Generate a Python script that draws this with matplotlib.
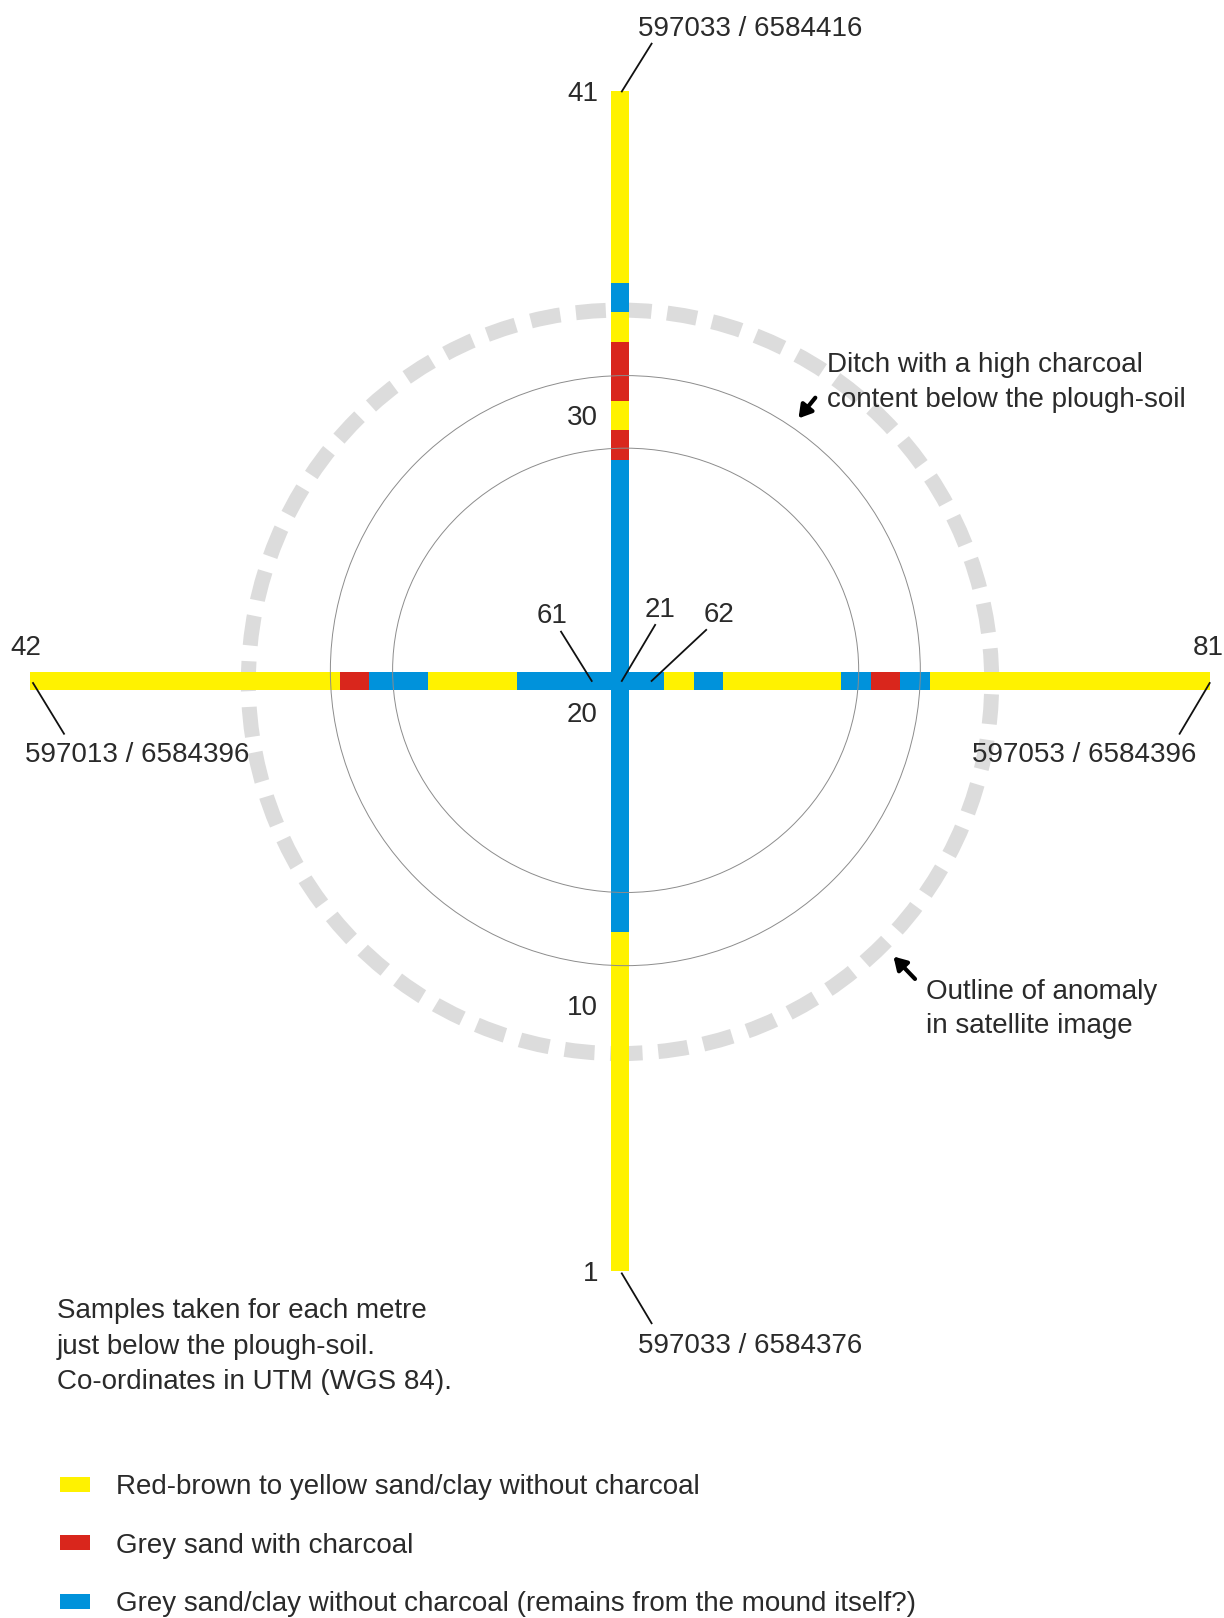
from itertools import groupby

import matplotlib
matplotlib.use('Agg')
import matplotlib.pyplot as plt
from matplotlib.patches import Circle, Ellipse, Rectangle

plt.rcParams['font.family'] = ['Liberation Sans', 'DejaVu Sans']

# soil class per sample, Y = red-brown/yellow, R = grey with charcoal, B = grey without charcoal
# south-north profile, samples 1..41 (21 is the crossing point)
ns_samples = list(range(1, 42))
ns_class = list('YYYYYYYYYYYY' 'BBBBBBBBBBBBBBBB' 'RYRRYB' 'YYYYYYY')
# west-east profile, samples 42..61, then 21 (centre), then 62..81
we_samples = list(range(42, 62)) + [21] + list(range(62, 82))
we_class = list('YYYYYYYYYYY' 'RBBYYYBBB' 'B' 'BYBYYYYBRB' 'YYYYYYYYYY')

class_colors = {'Y': '#fff200', 'R': '#d9261c', 'B': '#0092db'}
legend_classes = ['Y', 'R', 'B']
legend_labels = ['Red-brown to yellow sand/clay without charcoal',
                 'Grey sand with charcoal',
                 'Grey sand/clay without charcoal (remains from the mound itself?)']

profile_labels = ['41', '30', '10', '1']
profile_label_pos = [20, 9, -11, -20]
end_coords = ['597033 / 6584416', '597033 / 6584376',
              '597013 / 6584396', '597053 / 6584396']

notes = ['Samples taken for each metre', 'just below the plough-soil.',
         'Co-ordinates in UTM (WGS 84).']
ditch_text = ['Ditch with a high charcoal', 'content below the plough-soil']
outline_text = ['Outline of anomaly', 'in satellite image']

HALF = 20
BAR_W = 0.58
FS = 20
TC = '#2a2a2a'
DY = -0.1  # small nudge so text sits like the original

fig = plt.figure(figsize=(12.24, 16.18), dpi=100)
ax = fig.add_axes([0, 0, 1, 1])
ax.set_xlim(-21.02, 20.475)
ax.set_ylim(-31.76, 23.08)
ax.axis('off')


def label(x, y, s, ha='center'):
    ax.text(x, y + DY, s, fontsize=FS, ha=ha, va='center', color=TC)


# outline of the anomaly
ax.add_patch(Circle((0, -0.03), 12.6, fill=False, ec='#dcdcdc', lw=10.8,
                    linestyle=(0.5, (2.0, 1.05)), zorder=1))


def runs(classes):
    pos = 0
    for cls, grp in groupby(classes):
        n = len(list(grp))
        lo = max(pos - HALF - 0.5, -HALF)
        hi = min(pos + n - 1 - HALF + 0.5, HALF)
        yield cls, lo, hi
        pos += n


for cls, lo, hi in runs(ns_class):
    ax.bar(0, hi - lo, bottom=lo, width=BAR_W, color=class_colors[cls], lw=0, zorder=2)
for cls, lo, hi in runs(we_class):
    ax.barh(0, hi - lo, left=lo, height=BAR_W, color=class_colors[cls], lw=0, zorder=2)

# reference rings
ax.add_patch(Circle((0.18, 0.35), 10.0, fill=False, ec='#8c8c8c', lw=0.7, zorder=3))
ax.add_patch(Ellipse((0.19, 0.36), 15.8, 15.06, fill=False, ec='#8c8c8c', lw=0.7, zorder=3))

# sample numbers
for lab, p in zip(profile_labels, profile_label_pos):
    label(-0.75, p, lab, ha='right')
label(-20.14, 1.22, '42')
label(19.95, 1.22, '81')
label(-1.30, -1.04, '20')

# leader lines for centre samples and end coordinates
leaders = [('61', (-2.32, 2.29), (-2.0, 1.67), (-0.96, 0.0)),
           ('21', (1.36, 2.52), (1.19, 1.90), (0.06, 0.0)),
           ('62', (3.36, 2.34), (2.92, 1.73), (1.07, 0.0)),
           (end_coords[0], (4.41, 22.2), (1.07, 21.6), (0.06, 19.98)),
           (end_coords[1], (4.41, -22.43), (1.07, -21.77), (0.06, -20.08)),
           (end_coords[2], (-16.36, -2.42), (-18.85, -1.79), (-19.9, -0.07)),
           (end_coords[3], (15.72, -2.42), (18.97, -1.79), (19.99, -0.07))]
for lab, tpos, a, b in leaders:
    label(tpos[0], tpos[1], lab)
    ax.plot([a[0], b[0]], [a[1], b[1]], color='#111111', lw=1.3, zorder=4)

# annotations
arrow = dict(arrowstyle='-|>,head_length=0.75,head_width=0.45',
             color='k', lw=3, shrinkA=0, shrinkB=0)
for i, line in enumerate(ditch_text):
    label(7.03, 10.8 - 1.18 * i, line, ha='left')
ax.annotate('', xy=(6.05, 8.9), xytext=(6.62, 9.6), arrowprops=arrow)
for i, line in enumerate(outline_text):
    label(10.36, -10.43 - 1.18 * i, line, ha='left')
ax.annotate('', xy=(9.27, -9.34), xytext=(10.0, -10.1), arrowprops=arrow)

for i, line in enumerate(notes):
    label(-19.09, -21.27 - 1.19 * i, line, ha='left')

# legend
for i, (cls, lab) in enumerate(zip(legend_classes, legend_labels)):
    y = -27.22 - 1.985 * i
    ax.add_patch(Rectangle((-18.98, y - 0.255), 1.02, 0.51, color=class_colors[cls], lw=0))
    label(-17.10, y, lab, ha='left')

fig.savefig('out.png', dpi=100, facecolor='white')
